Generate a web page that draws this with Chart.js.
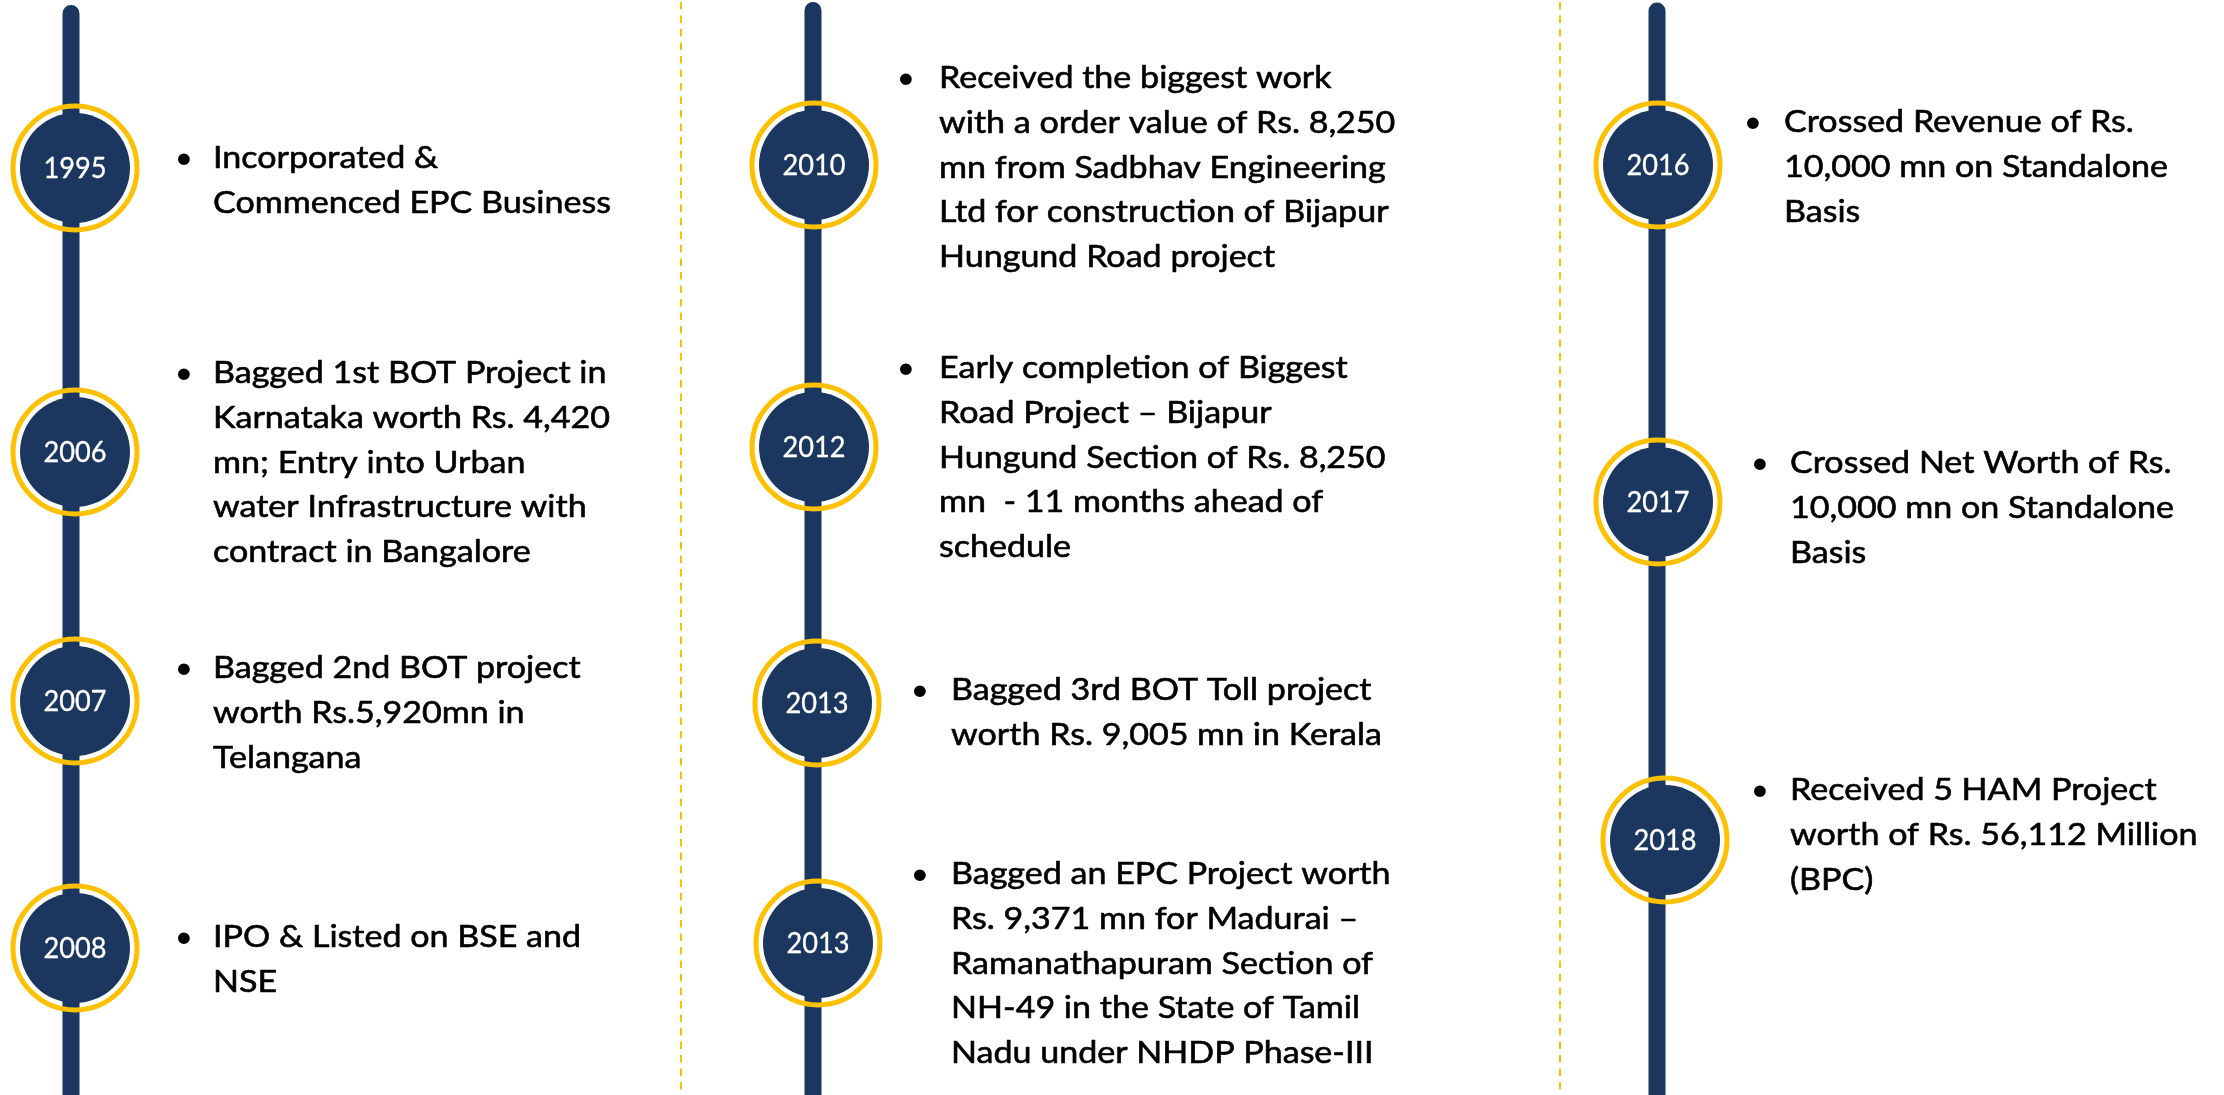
<!DOCTYPE html>
<html><head><meta charset="utf-8">
<script src="https://cdn.jsdelivr.net/npm/chart.js@4/dist/chart.umd.min.js"></script>
<style>html,body{margin:0;padding:0;background:#fff;overflow:hidden}canvas{display:block}</style>
</head><body>
<canvas id="c" width="2224" height="1095"></canvas>
<script>
// ---------- DATA ----------
const years = ['1995','2006','2007','2008','2010','2012','2013','2013','2016','2017','2018'];
const milestones = [
 ['Incorporated &','Commenced EPC Business'],
 ['Bagged 1st BOT Project in','Karnataka worth Rs. 4,420','mn; Entry into Urban','water Infrastructure with','contract in Bangalore'],
 ['Bagged 2nd BOT project','worth Rs.5,920mn in','Telangana'],
 ['IPO & Listed on BSE and','NSE'],
 ['Received the biggest work','with a order value of Rs. 8,250','mn from Sadbhav Engineering','Ltd for construction of Bijapur','Hungund Road project'],
 ['Early completion of Biggest','Road Project \u2013 Bijapur','Hungund Section of Rs. 8,250','mn  - 11 months ahead of','schedule'],
 ['Bagged 3rd BOT Toll project','worth Rs. 9,005 mn in Kerala'],
 ['Bagged an EPC Project worth','Rs. 9,371 mn for Madurai \u2013','Ramanathapuram Section of','NH-49 in the State of Tamil','Nadu under NHDP Phase-III'],
 ['Crossed Revenue of Rs.','10,000 mn on Standalone','Basis'],
 ['Crossed Net Worth of Rs.','10,000 mn on Standalone','Basis'],
 ['Received 5 HAM Project','worth of Rs. 56,112 Million','(BPC)']
];

// ---------- LAYOUT (positions in scale units) ----------
const spineX = [71, 813, 1657];
const spineTop = [13.5, 10.5, 11];
const dividerX = [681, 1560];
const markerX = [75,75,75,75,814,814,817,818,1658,1658,1665];
const markerY = [168,452,701,948,165,447,703,943,165,502,840];
const bulletX = [184,184,184,184,906,906,920,920,1753,1760,1760];
const textX   = [213,213,213,213,939,939,951,951,1784,1790,1790];
const baselineY = [168,383,678,947,88,378,700,884,132,473,800];
const LINE_GAP = 44.8;

const NAVY = '#1B375F';
const GOLD = '#FFC000';
const FONT = 'Lato, "Open Sans", "Liberation Sans", sans-serif';
const BODY_SIZE = 31.5, YEAR_SIZE = 28;

const datasets = [];
spineX.forEach((x,i)=>datasets.push({
  data:[{x:x,y:spineTop[i]},{x:x,y:1110}], showLine:true, borderColor:NAVY, borderWidth:17,
  borderCapStyle:'round', pointRadius:0, order:5, clip:false
}));
dividerX.forEach(x=>datasets.push({
  data:[{x:x,y:0},{x:x,y:1095}], showLine:true, borderColor:GOLD, borderWidth:2,
  borderDash:[7.5,6], borderDashOffset:-2, pointRadius:0, order:6, clip:false
}));
const markers = years.map((y,i)=>({x:markerX[i], y:markerY[i]}));
datasets.push({ data:markers, pointRadius:62, pointBorderWidth:5, pointBorderColor:GOLD,
  pointBackgroundColor:'rgba(0,0,0,0)', showLine:false, order:2, clip:false });
const discIndex = datasets.length;
datasets.push({ data:markers, pointRadius:55, pointBorderWidth:0, pointBackgroundColor:NAVY,
  showLine:false, order:1, clip:false });

function drawText(ctx, txt, x, y, sx, color, weight){
  ctx.save();
  ctx.translate(x, y); ctx.scale(sx,1);
  ctx.fillStyle = color; ctx.strokeStyle = color; ctx.lineWidth = weight; ctx.lineJoin = 'round';
  ctx.fillText(txt,0,0);
  if (weight > 0) ctx.strokeText(txt,0,0);
  ctx.restore();
}

const labelPlugin = {
  id:'labels',
  afterDraw(chart){
    const ctx = chart.ctx, xs = chart.scales.x, ys = chart.scales.y;
    ctx.save();
    ctx.textBaseline = 'alphabetic';
    // year labels in discs
    ctx.font = YEAR_SIZE + 'px ' + FONT;
    const sxY = 63 / ctx.measureText('1995').width;
    ctx.textAlign = 'center';
    chart.getDatasetMeta(discIndex).data.forEach((pt,i)=>{
      drawText(ctx, years[i], pt.x, pt.y + 10, sxY, '#FFFFFF', 0.3);
    });
    // milestone texts
    ctx.font = BODY_SIZE + 'px ' + FONT;
    const sxB = 398 / ctx.measureText('Commenced EPC Business').width;
    milestones.forEach((lines,i)=>{
      const bx = xs.getPixelForValue(bulletX[i]);
      const tx = xs.getPixelForValue(textX[i]);
      ctx.textAlign = 'center';
      drawText(ctx, '\u2022', bx, ys.getPixelForValue(baselineY[i]), 1, '#000000', 0);
      ctx.textAlign = 'left';
      lines.forEach((ln,j)=>{
        drawText(ctx, ln, tx, ys.getPixelForValue(baselineY[i] + j*LINE_GAP), sxB, '#000000', 0.6);
      });
    });
    ctx.restore();
  }
};

new Chart(document.getElementById('c'), {
  type:'scatter',
  data:{ datasets },
  options:{
    responsive:false, animation:false, devicePixelRatio:1, events:[],
    layout:{padding:0, autoPadding:false},
    plugins:{legend:{display:false}, tooltip:{enabled:false}},
    scales:{
      x:{type:'linear', min:0, max:2224, display:false},
      y:{type:'linear', min:0, max:1095, reverse:true, display:false}
    }
  },
  plugins:[labelPlugin]
});
</script>
</body></html>
